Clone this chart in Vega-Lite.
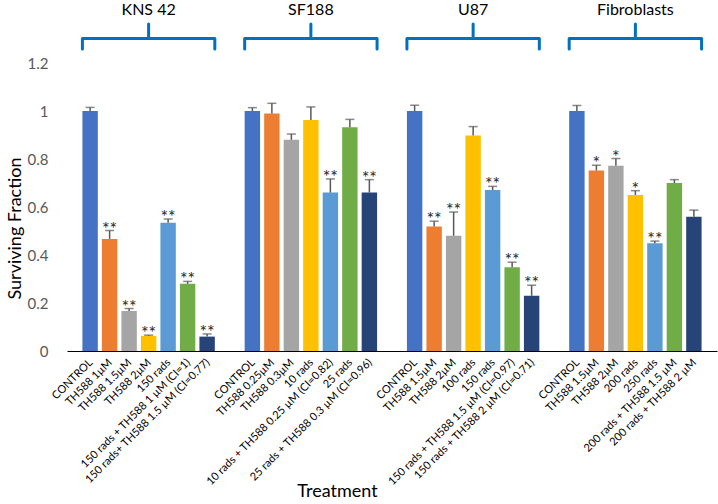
{
  "$schema": "https://vega.github.io/schema/vega-lite/v6.json",
  "width": 650,
  "height": 288,
  "autosize": {"type": "none"},
  "padding": {"left": 67, "top": 63, "right": 1, "bottom": 153},
  "background": "white",
  "config": {"view": {"stroke": null}, "font": "Lato"},
  "datasets": {
    "bars": [
      {"group": "KNS 42", "idx": 1, "label": "CONTROL", "value": 1.0, "upper": 1.015, "sig": ""},
      {"group": "KNS 42", "idx": 2, "label": "TH588 1µM", "value": 0.467, "upper": 0.502, "sig": "**"},
      {"group": "KNS 42", "idx": 3, "label": "TH588 1.5µM", "value": 0.167, "upper": 0.177, "sig": "**"},
      {"group": "KNS 42", "idx": 4, "label": "TH588 2µM", "value": 0.063, "upper": 0.066, "sig": "**"},
      {"group": "KNS 42", "idx": 5, "label": "150 rads", "value": 0.534, "upper": 0.55, "sig": "**"},
      {"group": "KNS 42", "idx": 6, "label": "150 rads + TH588 1 µM (CI=1)", "value": 0.28, "upper": 0.29, "sig": "**"},
      {"group": "KNS 42", "idx": 7, "label": "150 rads+ TH588 1.5 µM (CI=0.77)", "value": 0.06, "upper": 0.071, "sig": "**"},
      {"group": "SF188", "idx": 1, "label": "CONTROL", "value": 1.0, "upper": 1.014, "sig": ""},
      {"group": "SF188", "idx": 2, "label": "TH588 0.25µM", "value": 0.99, "upper": 1.032, "sig": ""},
      {"group": "SF188", "idx": 3, "label": "TH588 0.3µM", "value": 0.88, "upper": 0.904, "sig": ""},
      {"group": "SF188", "idx": 4, "label": "10 rads", "value": 0.962, "upper": 1.017, "sig": ""},
      {"group": "SF188", "idx": 5, "label": "10 rads + TH588 0.25 µM (CI=0.82)", "value": 0.66, "upper": 0.717, "sig": "**"},
      {"group": "SF188", "idx": 6, "label": "25 rads", "value": 0.932, "upper": 0.965, "sig": ""},
      {"group": "SF188", "idx": 7, "label": "25 rads + TH588 0.3 µM (CI=0.96)", "value": 0.66, "upper": 0.714, "sig": "**"},
      {"group": "U87", "idx": 1, "label": "CONTROL", "value": 1.0, "upper": 1.024, "sig": ""},
      {"group": "U87", "idx": 2, "label": "TH588 1.5µM", "value": 0.519, "upper": 0.541, "sig": "**"},
      {"group": "U87", "idx": 3, "label": "TH588 2µM", "value": 0.48, "upper": 0.579, "sig": "**"},
      {"group": "U87", "idx": 4, "label": "100 rads", "value": 0.898, "upper": 0.935, "sig": ""},
      {"group": "U87", "idx": 5, "label": "150 rads", "value": 0.671, "upper": 0.686, "sig": "**"},
      {"group": "U87", "idx": 6, "label": "150 rads + TH588 1.5 µM (CI=0.97)", "value": 0.349, "upper": 0.37, "sig": "**"},
      {"group": "U87", "idx": 7, "label": "150 rads + TH588 2 µM (CI=0.71)", "value": 0.23, "upper": 0.274, "sig": "**"},
      {"group": "Fibroblasts", "idx": 1, "label": "CONTROL", "value": 1.0, "upper": 1.023, "sig": ""},
      {"group": "Fibroblasts", "idx": 2, "label": "TH588 1.5µM", "value": 0.752, "upper": 0.774, "sig": "*"},
      {"group": "Fibroblasts", "idx": 3, "label": "TH588 2µM", "value": 0.772, "upper": 0.802, "sig": "*"},
      {"group": "Fibroblasts", "idx": 4, "label": "200 rads", "value": 0.65, "upper": 0.668, "sig": "*"},
      {"group": "Fibroblasts", "idx": 5, "label": "250 rads", "value": 0.449, "upper": 0.458, "sig": "**"},
      {"group": "Fibroblasts", "idx": 6, "label": "200 rads + TH588 1.5 µM", "value": 0.70, "upper": 0.714, "sig": ""},
      {"group": "Fibroblasts", "idx": 7, "label": "200 rads + TH588 2 µM", "value": 0.559, "upper": 0.587, "sig": ""}
    ],
    "groups": [
      {"group": "KNS 42"},
      {"group": "SF188"},
      {"group": "U87"},
      {"group": "Fibroblasts"}
    ]
  },
  "layer": [
    {
      "data": {"name": "bars"},
      "mark": {"type": "bar"},
      "encoding": {
        "x": {
          "field": "group", "type": "nominal", "sort": null,
          "scale": {"domain": ["KNS 42", "SF188", "U87", "Fibroblasts"], "paddingInner": 0.184, "paddingOuter": 0.095},
          "axis": {"labels": false, "ticks": false, "domain": true, "domainColor": "#000000", "domainWidth": 1.2, "grid": false,
                   "title": "Treatment", "titleFontSize": 18, "titleFontWeight": "normal", "titleColor": "#000000",
                   "titleX": 270, "titleY": 140, "titleBaseline": "middle", "titleAnchor": "middle"}
        },
        "xOffset": {"field": "idx", "type": "ordinal", "scale": {"domain": [1, 2, 3, 4, 5, 6, 7], "paddingInner": 0.21, "paddingOuter": 0}},
        "y": {
          "field": "value", "type": "quantitative",
          "scale": {"domain": [0, 1.2], "nice": false, "zero": true},
          "axis": {"values": [0, 0.2, 0.4, 0.6, 0.8, 1, 1.2], "format": "~g", "domain": false, "ticks": false, "grid": false,
                   "labelFontSize": 15, "labelColor": "#595959", "labelPadding": 19,
                   "title": "Surviving Fraction", "titleFontSize": 18, "titleFontWeight": "normal", "titleColor": "#000000",
                   "titleX": -52, "titleY": 165, "titleBaseline": "middle", "titleAnchor": "middle"}
        },
        "color": {
          "field": "idx", "type": "nominal", "legend": null,
          "scale": {"domain": [1, 2, 3, 4, 5, 6, 7], "range": ["#4472C4", "#ED7D31", "#A5A5A5", "#FFC000", "#5B9BD5", "#70AD47", "#264478"]}
        }
      }
    },
    {
      "data": {"name": "bars"},
      "mark": {"type": "rule", "color": "#595959", "strokeWidth": 1.5},
      "encoding": {
        "x": {"field": "group", "type": "nominal", "sort": null},
        "xOffset": {"field": "idx", "type": "ordinal"},
        "y": {"field": "value", "type": "quantitative"},
        "y2": {"field": "upper"}
      }
    },
    {
      "data": {"name": "bars"},
      "mark": {"type": "tick", "orient": "horizontal", "color": "#595959", "thickness": 1.5, "size": 9},
      "encoding": {
        "x": {"field": "group", "type": "nominal", "sort": null},
        "xOffset": {"field": "idx", "type": "ordinal"},
        "y": {"field": "upper", "type": "quantitative"}
      }
    },
    {
      "data": {"name": "bars"},
      "mark": {"type": "text", "fontSize": 18, "color": "#262626", "baseline": "alphabetic", "dy": 4},
      "encoding": {
        "x": {"field": "group", "type": "nominal", "sort": null},
        "xOffset": {"field": "idx", "type": "ordinal"},
        "y": {"field": "upper", "type": "quantitative"},
        "text": {"field": "sig"}
      }
    },
    {
      "data": {"name": "bars"},
      "mark": {"type": "text", "fontSize": 11, "color": "#000000", "angle": 315, "align": "right", "baseline": "middle", "dx": -6.4, "dy": 7.8},
      "encoding": {
        "x": {"field": "group", "type": "nominal", "sort": null},
        "xOffset": {"field": "idx", "type": "ordinal"},
        "y": {"datum": 0},
        "text": {"field": "label"}
      }
    },
    {
      "data": {"name": "groups"},
      "mark": {"type": "bar", "color": "#0070C0"},
      "encoding": {
        "x": {"field": "group", "type": "nominal", "sort": null},
        "y": {"datum": 1.308},
        "y2": {"datum": 1.296}
      }
    },
    {
      "data": {"name": "groups"},
      "mark": {"type": "rule", "color": "#0070C0", "strokeWidth": 3, "strokeCap": "round"},
      "encoding": {
        "x": {"field": "group", "type": "nominal", "sort": null, "bandPosition": 0},
        "y": {"datum": 1.302},
        "y2": {"datum": 1.258}
      }
    },
    {
      "data": {"name": "groups"},
      "mark": {"type": "rule", "color": "#0070C0", "strokeWidth": 3, "strokeCap": "round"},
      "encoding": {
        "x": {"field": "group", "type": "nominal", "sort": null, "bandPosition": 1},
        "y": {"datum": 1.302},
        "y2": {"datum": 1.258}
      }
    },
    {
      "data": {"name": "groups"},
      "mark": {"type": "rule", "color": "#0070C0", "strokeWidth": 3, "strokeCap": "round"},
      "encoding": {
        "x": {"field": "group", "type": "nominal", "sort": null, "bandPosition": 0.5},
        "y": {"datum": 1.302},
        "y2": {"datum": 1.3625}
      }
    },
    {
      "data": {"name": "groups"},
      "mark": {"type": "text", "fontSize": 16, "color": "#000000", "baseline": "middle", "align": "center"},
      "encoding": {
        "x": {"field": "group", "type": "nominal", "sort": null},
        "y": {"datum": 1.42},
        "text": {"field": "group"}
      }
    }
  ]
}
